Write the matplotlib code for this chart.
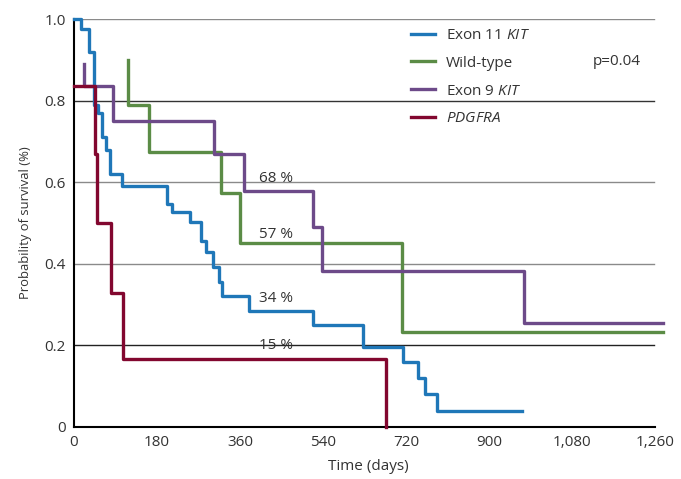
import numpy as np
import matplotlib
matplotlib.use('Agg')
import matplotlib.pyplot as plt

plt.rcParams['font.family'] = ['Open Sans', 'DejaVu Sans']
plt.rcParams['mathtext.fontset'] = 'custom'
plt.rcParams['mathtext.it'] = 'Open Sans:italic'
plt.rcParams['mathtext.rm'] = 'Open Sans'

# --- datos (dias, supervivencia) ---
exon11_t = [0, 15, 33, 43, 52, 61, 69, 78, 104, 202, 212, 252, 275, 286, 302, 314, 321, 380, 519, 627, 713, 746, 761, 787, 971]
exon11_s = [1.0, 0.975, 0.92, 0.79, 0.77, 0.71, 0.68, 0.62, 0.59, 0.547, 0.527, 0.502, 0.456, 0.43, 0.393, 0.355, 0.32, 0.284, 0.25, 0.196, 0.16, 0.12, 0.08, 0.04, 0.04]

wild_t = [117, 117, 163, 319, 360, 711, 1277]
wild_s = [0.9, 0.79, 0.675, 0.574, 0.45, 0.232, 0.232]

exon9_t = [22, 22, 85, 304, 369, 518, 538, 976, 1277]
exon9_s = [0.89, 0.835, 0.75, 0.67, 0.578, 0.49, 0.382, 0.255, 0.255]

pdgfra_t = [0, 46, 50, 80, 106, 677]
pdgfra_s = [0.835, 0.67, 0.5, 0.328, 0.167, 0.0]

etiquetas = ['68 %', '57 %', '34 %', '15 %']
etiq_y = [0.61, 0.473, 0.314, 0.199]

xticks = [0, 180, 360, 540, 720, 900, 1080, 1260]
xticklabels = ['0', '180', '360', '540', '720', '900', '1,080', '1,260']
yticks = [0, 0.2, 0.4, 0.6, 0.8, 1.0]
yticklabels = ['0', '0.2', '0.4', '0.6', '0.8', '1.0']

fs = 11
txt_col = '#333333'

fig = plt.figure(figsize=(6.81, 4.79), dpi=100)
ax = fig.add_axes([0.1087, 0.1086, 0.8649, 0.8517])

# lineas de rejilla
grid_col = {0.2: '#222222', 0.4: '#8a8a8a', 0.6: '#8a8a8a', 0.8: '#333333', 1.0: '#8a8a8a'}
for y, c in grid_col.items():
    ax.axhline(y, color=c, lw=1.0, zorder=1, xmax=0.985)

lw = 2.4
ax.plot(exon11_t, exon11_s, drawstyle='steps-post', color='#1f77b8', lw=lw, label='Exon 11 $\\mathit{KIT}$', zorder=3, clip_on=False)
ax.plot(wild_t, wild_s, drawstyle='steps-post', color='#5b8c46', lw=lw, label='Wild-type', zorder=3, clip_on=False)
ax.plot(exon9_t, exon9_s, drawstyle='steps-post', color='#6d4a89', lw=lw, label='Exon 9 $\\mathit{KIT}$', zorder=3, clip_on=False)
ax.plot(pdgfra_t, pdgfra_s, drawstyle='steps-post', color='#82072f', lw=lw, label='$\\mathit{PDGFRA}$', zorder=4, clip_on=False)

for txt, y in zip(etiquetas, etiq_y):
    ax.text(401, y, txt, fontsize=fs, color=txt_col, va='center', ha='left', zorder=5)

ax.text(1125, 0.895, 'p=0.04', fontsize=fs, color=txt_col, va='center', ha='left')

leg = ax.legend(loc='upper left', bbox_to_anchor=(0.548, 1.012), frameon=False, fontsize=fs,
                handlelength=1.57, handletextpad=0.72, labelspacing=0.84)
for t in leg.get_texts():
    t.set_color(txt_col)

ax.set_xlim(0, 1277)
ax.set_ylim(0, 1.0)
ax.set_xticks(xticks)
ax.set_xticklabels(xticklabels, fontsize=fs)
ax.set_yticks(yticks)
ax.set_yticklabels(yticklabels, fontsize=fs)
ax.tick_params(length=0, colors=txt_col, pad=6)

for s in ['top', 'right']:
    ax.spines[s].set_visible(False)
ax.spines['left'].set_linewidth(1.5)
ax.spines['bottom'].set_linewidth(1.5)
ax.spines['bottom'].set_bounds(0, 1260)

ax.set_xlabel('Time (days)', fontsize=fs, color=txt_col, labelpad=6)
ax.set_ylabel('Probability of survival (%)', fontsize=9.4, color=txt_col, labelpad=9)

fig.savefig('out.png', dpi=100)
